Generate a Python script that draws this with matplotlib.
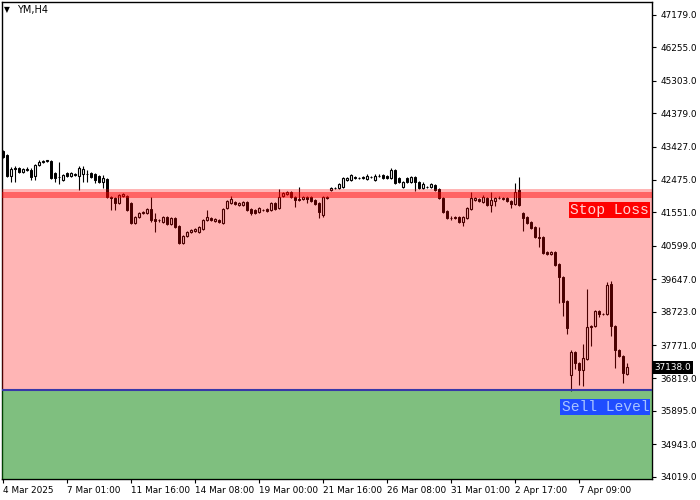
import numpy as np
import matplotlib
matplotlib.use("Agg")
import matplotlib.pyplot as plt
import matplotlib.transforms as mtransforms

# YM, H4 bars
opens = [43302, 43188, 42589, 42789, 42817, 42703, 42760, 42760, 42589, 42903,
         42988, 43003, 43017, 42675, 42561, 42475, 42675, 42589, 42618, 42589,
         42646, 42646, 42675, 42646, 42589, 42418, 42504, 41991, 41962, 41820,
         42019, 42019, 41820, 41250, 41421, 41535, 41535, 41649, 41364, 41335,
         41278, 41421, 41221, 41392, 41164, 40680, 40879, 40993, 41022, 40993,
         41079, 41335, 41392, 41307, 41335, 41250, 41677, 41820, 41848, 41763,
         41763, 41848, 41649, 41620, 41563, 41620, 41649, 41620, 41820, 41677,
         42019, 42076, 42133, 41991, 41934, 41934, 41991, 41991, 41905, 41820,
         41478, 41962, 42190, 42247, 42247, 42276, 42475, 42475, 42561, 42532,
         42532, 42504, 42561, 42475, 42589, 42618, 42589, 42532, 42760, 42532,
         42276, 42532, 42418, 42561, 42418, 42247, 42276, 42276, 42333, 42219,
         41962, 41592, 41392, 41421, 41421, 41278, 41392, 41649, 41905, 41934,
         41848, 41962, 41763, 41877, 41962, 41962, 41962, 41877, 41791, 42190,
         41535, 41421, 41278, 41136, 40851, 40851, 40423, 40366, 40423, 40081,
         39698, 39028, 36918, 37574, 37261, 37060, 37375, 38287, 38315, 38743,
         38657, 38657, 39498, 38315, 37631, 37460, 36946]
highs = [43330, 43216, 42846, 42874, 42846, 42817, 42846, 42817, 42931, 43045,
         43045, 43045, 43045, 42703, 42988, 42646, 42703, 42703, 42675, 42874,
         42874, 42760, 42703, 42675, 42618, 42618, 42532, 42019, 41991, 42076,
         42105, 42048, 41848, 41449, 41563, 41592, 41677, 41991, 41535, 41364,
         41449, 41449, 41421, 41421, 41193, 40908, 41022, 41079, 41107, 41164,
         41364, 41620, 41421, 41392, 41364, 41677, 41905, 42019, 41877, 41848,
         41877, 41877, 41677, 41649, 41706, 41649, 41677, 41848, 41848, 42219,
         42133, 42162, 42162, 42019, 42276, 42019, 42019, 42019, 41934, 41848,
         42019, 42019, 42276, 42276, 42390, 42561, 42561, 42646, 42589, 42561,
         42589, 42646, 42589, 42646, 42646, 42646, 42618, 42817, 42789, 42561,
         42447, 42561, 42589, 42589, 42447, 42418, 42304, 42390, 42361, 42247,
         41991, 41620, 41449, 41449, 41449, 41449, 41706, 42133, 41991, 41962,
         42048, 41991, 42133, 41991, 42019, 41991, 41991, 41905, 42390, 42561,
         41563, 41449, 41307, 41164, 41136, 40879, 40452, 40452, 40452, 40110,
         39727, 39057, 37631, 37603, 37289, 37802, 39356, 38344, 38772, 38772,
         38686, 39555, 39584, 38344, 37660, 37489, 37261]
lows = [43102, 42561, 42418, 42418, 42675, 42675, 42732, 42475, 42475, 42874,
        42960, 42988, 42504, 42418, 42361, 42447, 42561, 42561, 42589, 42190,
        42418, 42418, 42532, 42390, 42390, 42247, 41962, 41620, 41620, 41791,
        41991, 41592, 41221, 41221, 41392, 41506, 41506, 41278, 40993, 41278,
        41250, 41193, 41193, 41107, 40651, 40651, 40851, 40965, 40993, 40965,
        41050, 41307, 41307, 41278, 41250, 41221, 41649, 41791, 41763, 41734,
        41734, 41592, 41478, 41506, 41535, 41592, 41563, 41592, 41620, 41649,
        41991, 42048, 41962, 41706, 41877, 41905, 41820, 41848, 41763, 41392,
        41421, 41934, 42162, 42219, 42219, 42247, 42447, 42447, 42504, 42504,
        42504, 42475, 42532, 42447, 42561, 42504, 42504, 42504, 42361, 42390,
        42247, 42390, 42390, 42162, 42219, 42219, 42247, 42247, 42162, 41934,
        41535, 41364, 41335, 41364, 41250, 41164, 41364, 41620, 41877, 41848,
        41820, 41734, 41563, 41734, 41934, 41905, 41848, 41677, 41763, 41734,
        41022, 41221, 41079, 40822, 40566, 40366, 40338, 40338, 40024, 38971,
        38600, 38087, 36462, 37089, 36632, 36604, 37346, 37745, 38287, 38572,
        38629, 38629, 38030, 37117, 37432, 36689, 36918]
closes = [43131, 42589, 42789, 42817, 42703, 42789, 42789, 42561, 42903, 42988,
          43017, 43031, 42532, 42532, 42547, 42618, 42589, 42675, 42646, 42817,
          42789, 42632, 42561, 42475, 42418, 42532, 41991, 41962, 41820, 42048,
          42076, 41620, 41250, 41421, 41535, 41563, 41649, 41335, 41307, 41321,
          41421, 41221, 41392, 41136, 40680, 40879, 40993, 41050, 41079, 41136,
          41335, 41421, 41335, 41364, 41278, 41649, 41877, 41934, 41791, 41820,
          41848, 41620, 41535, 41535, 41677, 41606, 41592, 41820, 41649, 41991,
          42105, 42133, 41991, 41905, 41905, 41991, 41934, 41877, 41791, 41563,
          41991, 41991, 42247, 42233, 42361, 42532, 42532, 42618, 42532, 42518,
          42547, 42589, 42547, 42589, 42603, 42532, 42532, 42760, 42390, 42418,
          42418, 42418, 42561, 42418, 42247, 42361, 42262, 42361, 42190, 41962,
          41563, 41392, 41378, 41392, 41278, 41421, 41677, 41962, 41962, 41877,
          41991, 41763, 41905, 41962, 41948, 41934, 41877, 41791, 42133, 41763,
          41392, 41250, 41107, 40851, 40822, 40395, 40366, 40423, 40053, 39698,
          39000, 38258, 37574, 37261, 37060, 37403, 38287, 38315, 38743, 38657,
          38643, 39470, 38315, 37631, 37460, 36975, 37138]

tick_idx = [0, 16, 32, 48, 64, 80, 96, 112, 128, 144]
tick_text = ["4 Mar 2025", "7 Mar 01:00", "11 Mar 16:00", "14 Mar 08:00",
             "19 Mar 00:00", "21 Mar 16:00", "26 Mar 08:00", "31 Mar 01:00",
             "2 Apr 17:00", "7 Apr 09:00"]
price_ticks = [47179, 46255, 45303, 44379, 43427, 42475, 41551, 40599,
               39647, 38723, 37771, 36819, 35895, 34943, 34019]

stop_loss = 42050
sell_level = 36490
zone_top = 42219
last_price = 37138.0

O = np.array(opens); H = np.array(highs); L = np.array(lows); C = np.array(closes)
x = np.arange(len(C))
up = C >= O

fig = plt.figure(figsize=(7, 5), dpi=100)
ax = fig.add_axes([2/700, 21/500, 650/700, 477/500])

ax.vlines(x, L, H, color="black", linewidth=0.8, zorder=2)
body_lo = np.minimum(O, C)
body_h = np.maximum(np.abs(C - O), 14)
ax.bar(x[~up], body_h[~up], 0.72, bottom=body_lo[~up], color="black",
       edgecolor="black", linewidth=0.7, zorder=3)
ax.bar(x[up], body_h[up], 0.72, bottom=body_lo[up], color="white",
       edgecolor="black", linewidth=0.8, zorder=3)

# stop-loss zone, sell zone
ax.axhspan(sell_level, zone_top, color="red", alpha=0.29, lw=0, zorder=4)
ax.axhspan(stop_loss - 95, stop_loss + 95, color="red", alpha=0.45, lw=0, zorder=4)
ax.axhspan(33000, sell_level, color="green", alpha=0.5, lw=0, zorder=4)
ax.axhline(sell_level, color="#3838a8", linewidth=1.5, zorder=5)

ax.set_xlim(-0.25, 162.25)
ax.set_ylim(33953, 47548)

blend = mtransforms.blended_transform_factory(ax.transAxes, ax.transData)
ax.text(0.9955, 41620, "Stop Loss", transform=blend, ha="right", va="center",
        family="Liberation Mono", fontsize=10.5, color="#ffd4d4", zorder=6,
        bbox=dict(boxstyle="square,pad=0.08", fc="#ff0000", ec="none"))
ax.text(0.9955, 36005, "Sell Level", transform=blend, ha="right", va="center",
        family="Liberation Mono", fontsize=10.5, color="#a8c4ff", zorder=6,
        bbox=dict(boxstyle="square,pad=0.08", fc="#1f4dff", ec="none"))

ax.yaxis.tick_right()
ax.set_yticks(price_ticks)
ax.set_yticklabels(["%.1f" % p for p in price_ticks])
ax.set_xticks(tick_idx)
ax.set_xticklabels(tick_text, ha="left")
ax.tick_params(axis="both", labelsize=6.4, length=3, width=0.8, direction="out",
               pad=2, colors="black")
ax.tick_params(axis="y", pad=3)
for s in ax.spines.values():
    s.set_linewidth(1.0)

ax.text(1.004, last_price, "%.1f" % last_price, transform=blend, ha="left",
        va="center", fontsize=6.4, color="white", zorder=6, clip_on=False,
        bbox=dict(boxstyle="square,pad=0.2", fc="black", ec="none"))

fig.text(4/700, 1 - 10/500, "\u25bc", fontsize=5.5, va="center", ha="left")
fig.text(17/700, 1 - 10/500, "YM,H4", fontsize=7, va="center", ha="left")

fig.savefig("out.png", dpi=100)
